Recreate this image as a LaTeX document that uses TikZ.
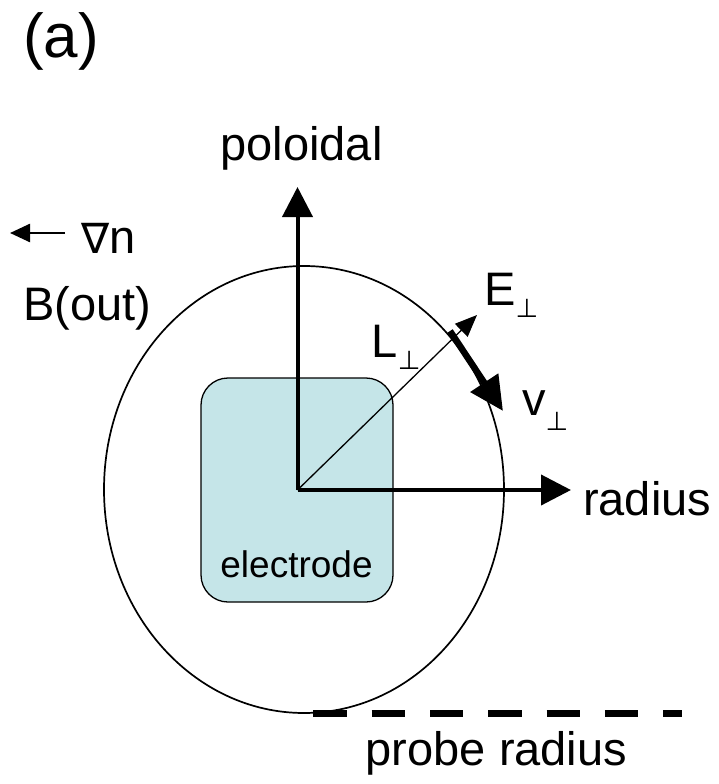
\documentclass[tikz,border=0pt]{standalone}
\usepackage{fontspec}
\setmainfont{Liberation Sans}
\newfontfamily\symfnt{DejaVu Sans}
\usetikzlibrary{arrows.meta}
\definecolor{elecfill}{RGB}{197,229,232}
\newcommand{\perpsub}[1]{\raisebox{#1}{\fontsize{26}{26}\symfnt ⊥}}
\begin{document}
\begin{tikzpicture}[x=1pt,y=-1pt,
  lbl/.style={inner sep=0pt, anchor=base west, font=\fontsize{47}{56}\selectfont},
  clbl/.style={inner sep=0pt, anchor=base, font=\fontsize{47}{56}\selectfont},
  axis/.style={line width=4pt, -{Triangle[length=30pt,width=30pt]}},
  thinarrow/.style={line width=1.3pt, -{Triangle[length=22pt,width=18pt]}},
  flowarrow/.style={line width=6.5pt, -{Triangle[length=34pt,width=32pt]}},
  gradarrow/.style={line width=2.5pt, -{Triangle[length=20pt,width=18pt]}},
  probeline/.style={line width=7pt, dash pattern=on 33.3pt off 25pt}
]
\useasboundingbox (0,0) rectangle (719,784);

% coordinates
\coordinate (O) at (297.5,490);
\coordinate (ptop) at (297.5,187);
\coordinate (rend) at (571,490);
\coordinate (Ltip) at (477,315);
\coordinate (vs) at (450,331);
\coordinate (ve) at (503,411);
\coordinate (gs) at (65,233);
\coordinate (ge) at (10,233);
\coordinate (ps) at (313.4,713);
\coordinate (pe) at (682,713);

% probe circle
\draw[line width=1.7pt] (304,489.5) ellipse [x radius=200pt, y radius=223.5pt];

% electrode
\node[draw, line width=1.3pt, fill=elecfill, rounded corners=27pt,
      minimum width=192pt, minimum height=224pt, inner sep=0pt] (elec) at (297,490) {};
\node[inner sep=0pt, anchor=base, font=\fontsize{37}{44}\selectfont] (electxt) at (296.5,577) {electrode};

% axes
\draw[axis] (O) -- (ptop);
\draw[axis] (O) -- (rend);

% L perp / E perp line
\draw[thinarrow] (O) -- (Ltip);

% v perp arrow
\draw[flowarrow] (vs) -- (ve);

% grad n arrow
\draw[gradarrow] (gs) -- (ge);

% probe radius dashed line
\draw[probeline] (ps) -- (pe);

% labels
\node[inner sep=0pt, anchor=base west, font=\fontsize{62}{70}\selectfont] (tag) at (23,58) {(a)};
\node[clbl] (pol) at (301.5,160) {poloidal};
\node[lbl] (rad) at (583,515) {radius};
\node[clbl] (prad) at (496.5,765) {probe radius};
\node[lbl] (bout) at (23,320) {B(out)};
\node[lbl] (grad) at (81,253) {{\fontsize{42}{50}\symfnt ∇}n};
\node[lbl] (Elbl) at (484,305) {E\perpsub{-12pt}};
\node[lbl] (Llbl) at (371.5,357) {L\perpsub{-12pt}};
\node[lbl] (vlbl) at (522,415) {v\perpsub{-15pt}};
\end{tikzpicture}
\end{document}
